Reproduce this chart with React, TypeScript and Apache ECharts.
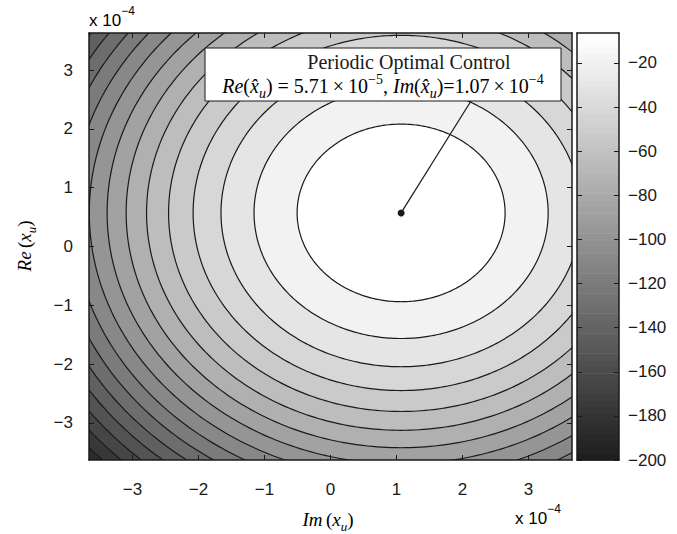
import React, { useEffect, useRef } from "react";
import * as echarts from "echarts";

// Axis window, in units of 1e-4
const imRange = [-3.66, 3.66];
const reRange = [-3.63, 3.63];
const imTicks = [-3, -2, -1, 0, 1, 2, 3];
const reTicks = [-3, -2, -1, 0, 1, 2, 3];

// Colour scale of the cost (dB)
const costRange = [-200, -6.4];
const costTicks = [-200, -180, -160, -140, -120, -100, -80, -60, -40, -20];
const colormapSteps = 64;

// Contour levels of the cost surface (dB), lowest first
const contourLevels = [
  -188.6, -177.2, -165.8, -154.4, -143.1, -131.7, -120.3, -108.9,
  -97.5, -86.1, -74.7, -63.4, -52.0, -40.6, -29.2, -17.8,
];

// Periodic optimum (Im, Re) in units of 1e-4 and its cost
const optimum = [1.07, 0.571];
const optimumCost = -6.4;
// Quadratic fall-off of the cost around the optimum, dB per (1e-4)^2 along Im and Re
const costCurvature = [4.59, 5.0];

const INK = "#1a1a1a";
const SANS = "Liberation Sans, Arial, sans-serif";
const SERIF = "Liberation Serif, Times New Roman, serif";

const minus = (v: number) => String(v).replace("-", "\u2212");

// grey colormap with a slightly lifted black point
function greyAt(t: number) {
  const c = Math.max(0, Math.min(1, t));
  const g = Math.round(30 + 225 * c);
  return `rgb(${g},${g},${g})`;
}
const greyOfCost = (v: number) =>
  greyAt((v - costRange[0]) / (costRange[1] - costRange[0]));

const mathRich = (size: number) => ({
  n: { fontFamily: SERIF, fontSize: size, fontWeight: "normal", lineHeight: 28, verticalAlign: "middle", color: INK },
  it: { fontFamily: SERIF, fontSize: size, fontWeight: "normal", fontStyle: "italic", lineHeight: 28, verticalAlign: "middle", color: INK },
  sub: { fontFamily: SERIF, fontSize: Math.round(size * 0.68), fontWeight: "normal", fontStyle: "italic", lineHeight: 12, verticalAlign: "bottom", color: INK },
  sup: { fontFamily: SERIF, fontSize: Math.round(size * 0.68), fontWeight: "normal", lineHeight: 12, verticalAlign: "top", color: INK },
});

const exponentRich = {
  n: { fontFamily: SANS, fontSize: 17, lineHeight: 24, verticalAlign: "bottom", color: INK },
  sup: { fontFamily: SANS, fontSize: 12, lineHeight: 14, verticalAlign: "top", color: INK },
};

export default function App() {
  const ref = useRef<HTMLDivElement>(null);

  useEffect(() => {
    if (!ref.current) return;
    const chart = echarts.init(ref.current, null, { renderer: "svg" });

    const frame = { show: true, onZero: false, lineStyle: { color: INK, width: 1.5 } };
    const tickIn = (vals: number[]) => ({
      show: true,
      inside: true,
      length: 5,
      customValues: vals,
      lineStyle: { color: INK, width: 1 },
    });
    const tickLabel = (vals: number[], margin: number) => ({
      show: true,
      customValues: vals,
      formatter: minus,
      fontFamily: SANS,
      fontSize: 17,
      color: INK,
      margin,
    });
    const axisBase = { type: "value", z: 10, splitLine: { show: false } };

    const option: any = {
      animation: false,
      backgroundColor: "#ffffff",
      grid: [
        {
          left: 89, top: 33, width: 483, height: 427,
          show: true, borderWidth: 0,
          backgroundColor: greyOfCost(contourLevels[0]),
        },
        { left: 577, top: 33, width: 42, height: 427, show: false },
      ],
      xAxis: [
        {
          ...axisBase, gridIndex: 0, min: imRange[0], max: imRange[1], position: "bottom",
          axisLine: frame, axisTick: tickIn(imTicks), axisLabel: tickLabel(imTicks, 21),
        },
        {
          ...axisBase, gridIndex: 0, min: imRange[0], max: imRange[1], position: "top",
          axisLine: frame, axisTick: tickIn(imTicks), axisLabel: { show: false },
        },
        {
          ...axisBase, gridIndex: 1, min: 0, max: 1, position: "bottom",
          axisLine: frame, axisTick: { show: false }, axisLabel: { show: false },
        },
        {
          ...axisBase, gridIndex: 1, min: 0, max: 1, position: "top",
          axisLine: frame, axisTick: { show: false }, axisLabel: { show: false },
        },
      ],
      yAxis: [
        {
          ...axisBase, gridIndex: 0, min: reRange[0], max: reRange[1], position: "left",
          axisLine: frame, axisTick: tickIn(reTicks), axisLabel: tickLabel(reTicks, 16),
        },
        {
          ...axisBase, gridIndex: 0, min: reRange[0], max: reRange[1], position: "right",
          axisLine: frame, axisTick: tickIn(reTicks), axisLabel: { show: false },
        },
        {
          ...axisBase, gridIndex: 1, min: costRange[0], max: costRange[1], position: "right",
          axisLine: frame, axisTick: tickIn(costTicks), axisLabel: tickLabel(costTicks, 9),
        },
        {
          ...axisBase, gridIndex: 1, min: costRange[0], max: costRange[1], position: "left",
          axisLine: frame, axisTick: tickIn(costTicks), axisLabel: { show: false },
        },
      ],
      series: [
        {
          // filled contours: every level is an ellipse of the quadratic cost
          type: "custom",
          name: "cost",
          coordinateSystem: "cartesian2d",
          xAxisIndex: 0,
          yAxisIndex: 0,
          silent: true,
          z: 2,
          data: contourLevels.map((lv) => [optimum[0], optimum[1], lv]),
          renderItem: (params: any, api: any) => {
            const i = params.dataIndex;
            const level = contourLevels[i];
            const drop = optimumCost - level;
            const ax = Math.sqrt(drop / costCurvature[0]);
            const ay = Math.sqrt(drop / costCurvature[1]);
            const pts: number[][] = [];
            const n = 360;
            for (let k = 0; k < n; k++) {
              const th = (k / n) * Math.PI * 2;
              pts.push(api.coord([optimum[0] + ax * Math.cos(th), optimum[1] + ay * Math.sin(th)]));
            }
            const inner = i + 1 < contourLevels.length ? contourLevels[i + 1] : optimumCost;
            const cs = params.coordSys;
            return {
              type: "polygon",
              shape: { points: pts },
              style: { fill: greyOfCost(inner), stroke: INK, lineWidth: 1.2 },
              clipPath: { type: "rect", shape: { x: cs.x, y: cs.y, width: cs.width, height: cs.height } },
            };
          },
        },
        {
          // optimum marker with its leader to the note box
          type: "custom",
          name: "optimum",
          coordinateSystem: "cartesian2d",
          xAxisIndex: 0,
          yAxisIndex: 0,
          silent: true,
          z: 5,
          data: [optimum],
          renderItem: (params: any, api: any) => {
            const p = api.coord([api.value(0), api.value(1)]);
            return {
              type: "group",
              children: [
                { type: "line", shape: { x1: p[0], y1: p[1], x2: 471, y2: 101 }, style: { stroke: INK, lineWidth: 1.2 } },
                { type: "circle", shape: { cx: p[0], cy: p[1], r: 3.5 }, style: { fill: INK } },
              ],
            };
          },
        },
        {
          // colorbar
          type: "custom",
          name: "colorbar",
          coordinateSystem: "cartesian2d",
          xAxisIndex: 2,
          yAxisIndex: 2,
          silent: true,
          z: 2,
          data: Array.from({ length: colormapSteps }, (_, i) => [0.5, i]),
          renderItem: (params: any, api: any) => {
            const i = params.dataIndex;
            const span = (costRange[1] - costRange[0]) / colormapSteps;
            const lo = costRange[0] + i * span;
            const hi = lo + span;
            const a = api.coord([0, hi]);
            const b = api.coord([1, lo]);
            return {
              type: "rect",
              shape: { x: a[0], y: a[1], width: b[0] - a[0], height: b[1] - a[1] + 0.6 },
              style: { fill: greyAt(i / (colormapSteps - 1)) },
            };
          },
        },
      ],
      graphic: [
        {
          type: "rect", z: 100,
          shape: { x: 205, y: 48, width: 356, height: 53 },
          style: { fill: "#ffffff", stroke: INK, lineWidth: 1 },
        },
        {
          type: "text", z: 101, x: 409, y: 62,
          style: {
            text: "Periodic Optimal Control",
            fontFamily: SERIF, fontSize: 20, fontWeight: "normal", fill: INK,
            align: "center", verticalAlign: "middle",
          },
        },
        {
          type: "text", z: 101, x: 383, y: 86,
          style: {
            text:
              "{it|Re}{n|(}{it|x\u0302}{sub|u}{n|) = 5.71\u2009\u00d7\u200910}{sup|\u22125}{n|, }" +
              "{it|Im}{n|(}{it|x\u0302}{sub|u}{n|)=1.07\u2009\u00d7\u200910}{sup|\u22124}",
            rich: mathRich(20),
            align: "center", verticalAlign: "middle",
          },
        },
        {
          type: "text", z: 101, x: 89, y: 17,
          style: { text: "{n|x 10}{sup|\u22124}", rich: exponentRich, align: "left", verticalAlign: "middle" },
        },
        {
          type: "text", z: 101, x: 515, y: 515,
          style: { text: "{n|x 10}{sup|\u22124}", rich: exponentRich, align: "left", verticalAlign: "middle" },
        },
        {
          type: "text", z: 101, x: 328, y: 519,
          style: {
            text: "{it|Im} {n|(}{it|x}{sub|u}{n|)}",
            rich: mathRich(19),
            align: "center", verticalAlign: "middle",
          },
        },
        {
          type: "text", z: 101, x: 24, y: 246, rotation: Math.PI / 2,
          style: {
            text: "{it|Re} {n|(}{it|x}{sub|u}{n|)}",
            rich: mathRich(19),
            align: "center", verticalAlign: "middle",
          },
        },
      ],
    };

    chart.setOption(option);
    return () => chart.dispose();
  }, []);

  return (
    <div
      ref={ref}
      style={{ position: "fixed", left: 0, top: 0, width: 677, height: 534, background: "#fff" }}
    />
  );
}
